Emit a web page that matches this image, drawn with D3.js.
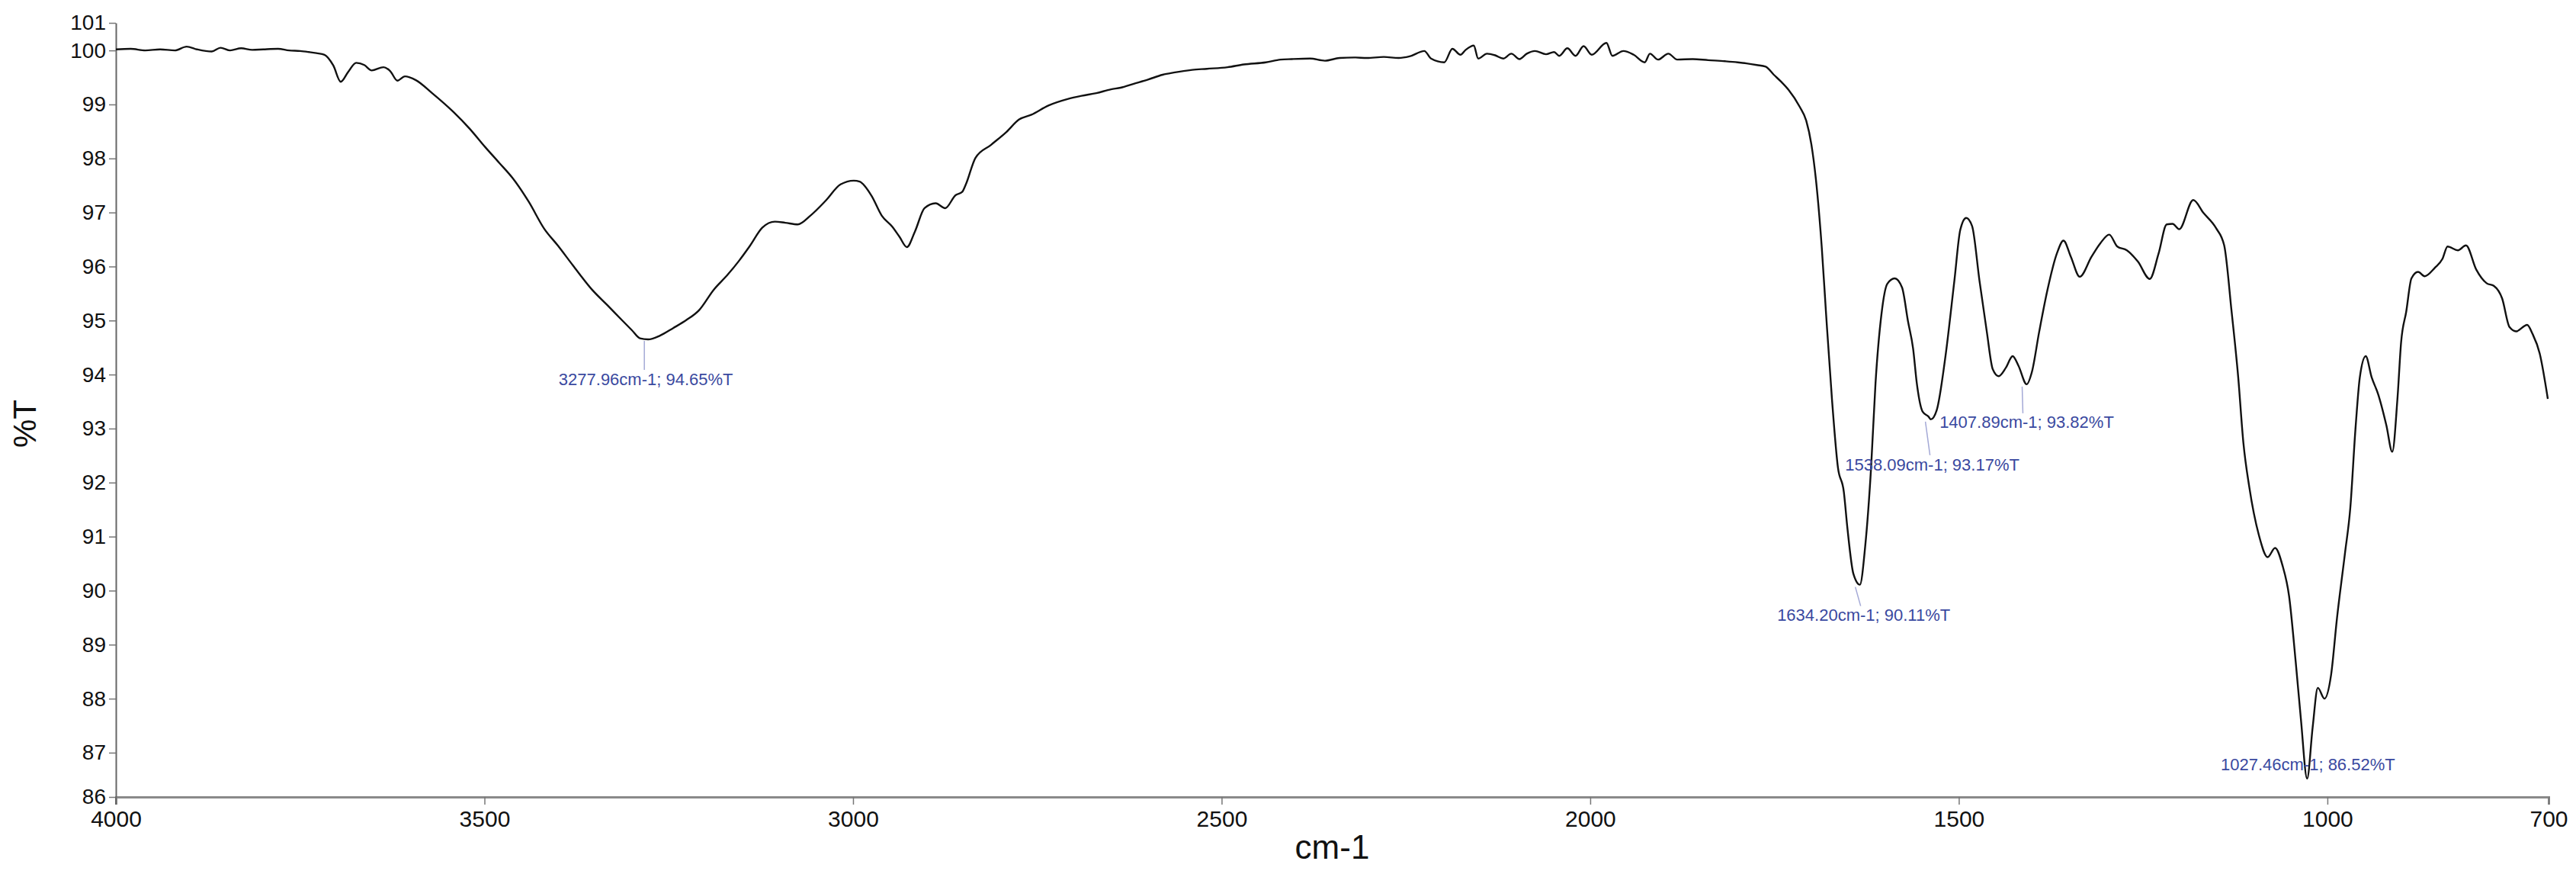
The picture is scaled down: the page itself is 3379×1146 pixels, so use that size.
<!DOCTYPE html>
<html>
<head>
<meta charset="utf-8">
<script src="https://cdn.jsdelivr.net/npm/d3@7/dist/d3.min.js"></script>
<style>
  body { margin: 0; background: #fff; }
  svg { display: block; font-family: "Liberation Sans", Arial, sans-serif; }
</style>
</head>
<body>
<div id="chart"></div>
<script>
// wavenumber (cm-1), high to low
var wn = [4000, 3980, 3960, 3940, 3920, 3904, 3890, 3870, 3858, 3845, 3830, 3815, 3800, 3780, 3765, 3750, 3738, 3728, 3717, 3705,
  3695, 3685, 3674, 3663, 3653, 3637, 3628, 3618, 3608, 3593, 3571, 3542, 3520, 3499, 3480, 3462, 3440, 3419, 3400, 3380,
  3354, 3333, 3313, 3300, 3289, 3278, 3262, 3244, 3226, 3209, 3189, 3170, 3155, 3140, 3123, 3106, 3092, 3075, 3058, 3037,
  3017, 2999, 2991, 2975, 2961, 2947, 2937, 2927, 2916, 2903, 2888, 2875, 2861, 2852, 2847, 2834, 2813, 2792, 2775, 2758,
  2735, 2709, 2690, 2670, 2650, 2637, 2620, 2600, 2580, 2565, 2540, 2520, 2492, 2470, 2440, 2420, 2405, 2380, 2360, 2340,
  2320, 2303, 2280, 2260, 2245, 2225, 2216, 2198, 2187, 2176, 2169, 2158, 2152, 2140, 2129, 2118, 2107, 2096, 2086, 2075,
  2060, 2049, 2042, 2031, 2020, 2009, 1998, 1978, 1970, 1955, 1941, 1926, 1919, 1908, 1894, 1882, 1861, 1840, 1817, 1800,
  1788, 1774, 1762, 1751, 1741, 1731, 1716, 1707, 1700, 1694, 1686, 1680, 1672, 1664, 1656, 1651, 1643, 1634.2, 1627, 1619,
  1613, 1605, 1597, 1587, 1577, 1569, 1562, 1557, 1549, 1541, 1538, 1530, 1518, 1506, 1498, 1490, 1482, 1472, 1462, 1454,
  1446, 1436, 1427, 1419, 1408, 1401, 1391, 1380, 1367, 1358, 1348, 1336, 1320, 1308, 1296, 1285, 1272, 1257, 1241, 1229,
  1218, 1210, 1201, 1182, 1168, 1151, 1140, 1130, 1121, 1114, 1106, 1093, 1081, 1071, 1061, 1052, 1043, 1036, 1027.5, 1020,
  1013, 1004, 995, 987, 976, 969, 962, 956, 948, 940, 931, 920, 912, 905, 900, 893, 886, 877, 868, 854,
  844, 837, 823, 812, 798, 784, 774, 763, 753, 744, 729, 722, 712, 701];

// transmittance (%T) at each wavenumber
var trans = [100.02, 100.03, 100.00, 100.02, 100.00, 100.07, 100.02, 99.98, 100.05, 100.00, 100.04, 100.01, 100.02, 100.03, 100.00, 99.99, 99.97, 99.95, 99.92, 99.72,
  99.42, 99.60, 99.77, 99.73, 99.63, 99.69, 99.62, 99.44, 99.52, 99.45, 99.21, 98.86, 98.55, 98.21, 97.92, 97.64, 97.20, 96.70, 96.38, 96.02,
  95.57, 95.28, 95.00, 94.82, 94.67, 94.65, 94.72, 94.86, 95.01, 95.19, 95.57, 95.85, 96.10, 96.38, 96.72, 96.83, 96.81, 96.78, 96.94, 97.22,
  97.52, 97.59, 97.57, 97.31, 96.94, 96.74, 96.55, 96.36, 96.65, 97.08, 97.17, 97.08, 97.32, 97.38, 97.52, 98.01, 98.25, 98.49, 98.72, 98.81,
  98.98, 99.10, 99.16, 99.21, 99.28, 99.31, 99.38, 99.46, 99.55, 99.59, 99.64, 99.66, 99.69, 99.74, 99.78, 99.83, 99.84, 99.85, 99.81, 99.86,
  99.87, 99.86, 99.88, 99.86, 99.89, 99.99, 99.85, 99.78, 100.03, 99.92, 100.01, 100.09, 99.85, 99.94, 99.91, 99.85, 99.94, 99.84, 99.94, 99.99,
  99.93, 99.97, 99.90, 100.04, 99.90, 100.08, 99.92, 100.14, 99.90, 99.99, 99.92, 99.78, 99.94, 99.83, 99.94, 99.83, 99.84, 99.82, 99.80, 99.78,
  99.76, 99.73, 99.70, 99.55, 99.42, 99.27, 98.96, 98.70, 98.26, 97.63, 96.37, 95.11, 93.53, 92.28, 91.83, 91.14, 90.31, 90.11, 90.82, 92.28,
  93.84, 95.11, 95.68, 95.78, 95.61, 94.99, 94.48, 93.84, 93.31, 93.22, 93.17, 93.34, 94.35, 95.74, 96.68, 96.90, 96.75, 95.74, 94.79, 94.10,
  93.97, 94.13, 94.34, 94.16, 93.82, 94.04, 94.79, 95.55, 96.24, 96.48, 96.18, 95.81, 96.18, 96.43, 96.59, 96.37, 96.30, 96.09, 95.77, 96.24,
  96.78, 96.79, 96.69, 97.23, 96.99, 96.71, 96.39, 95.17, 93.95, 92.74, 91.92, 91.03, 90.62, 90.79, 90.47, 89.90, 88.68, 87.63, 86.52, 87.47,
  88.20, 88.00, 88.44, 89.49, 90.71, 91.52, 92.98, 93.95, 94.34, 93.95, 93.63, 93.06, 92.57, 93.55, 94.60, 95.17, 95.78, 95.90, 95.82, 95.98,
  96.14, 96.37, 96.30, 96.39, 95.94, 95.69, 95.64, 95.41, 94.88, 94.80, 94.92, 94.76, 94.39, 93.55];

// marked peaks
var peakWn = [3277.96, 1634.20, 1538.09, 1407.89, 1027.46];
var peakT = [94.65, 90.11, 93.17, 93.82, 86.52];

// axis
var xDomain = [4000, 700];
var xTicks = [4000, 3500, 3000, 2500, 2000, 1500, 1000, 700];
var yDomain = [86.18, 100.51];   // the ends get labelled 86 and 101
var yTicks = [86.18, 87, 88, 89, 90, 91, 92, 93, 94, 95, 96, 97, 98, 99, 100, 100.51];

var W = 3379, H = 1146;
var margin = { top: 30, right: 36, bottom: 101, left: 152 },
    width = W - margin.left - margin.right,
    height = H - margin.top - margin.bottom;

var svg = d3.select("#chart").append("svg")
    .attr("width", W)
    .attr("height", H);

var g = svg.append("g")
    .attr("transform", "translate(" + margin.left + "," + margin.top + ")");

var x = d3.scaleLinear().domain(xDomain).range([0, width]);
var y = d3.scaleLinear().domain(yDomain).range([height, 0]);

// x axis
var gx = g.append("g")
    .attr("transform", "translate(0," + height + ")")
    .call(d3.axisBottom(x).tickValues(xTicks).tickSize(10).tickPadding(8).tickFormat(d3.format("d")));
gx.select(".domain").attr("stroke", "#8a8a8a").attr("stroke-width", 3);
gx.selectAll(".tick line").attr("stroke", "#777").attr("stroke-width", 1.5);
gx.selectAll("text").attr("font-size", "30px").attr("fill", "#111").attr("font-family", "Liberation Sans, Arial, sans-serif");

// y axis
var gy = g.append("g")
    .call(d3.axisLeft(y).tickValues(yTicks).tickSize(9).tickPadding(4).tickSizeOuter(0).tickFormat(d3.format(".0f")));
gy.select(".domain").attr("stroke", "#666").attr("stroke-width", 2);
gy.selectAll(".tick line").attr("stroke", "#777").attr("stroke-width", 1.5);
gy.selectAll("text").attr("font-size", "28px").attr("fill", "#111").attr("font-family", "Liberation Sans, Arial, sans-serif");

// y axis line runs a bit past the x axis
g.append("line")
    .attr("x1", 0).attr("x2", 0)
    .attr("y1", height).attr("y2", height + 10)
    .attr("stroke", "#666").attr("stroke-width", 2);

// axis titles
svg.append("text")
    .attr("transform", "translate(47," + (margin.top + height / 2 + 18) + ") rotate(-90)")
    .attr("text-anchor", "middle")
    .attr("font-size", "42px")
    .attr("fill", "#111")
    .text("%T");

svg.append("text")
    .attr("x", margin.left + width / 2)
    .attr("y", 1126)
    .attr("text-anchor", "middle")
    .attr("font-size", "44px")
    .attr("fill", "#111")
    .text("cm-1");

// spectrum
var pts = wn.map(function (d, i) { return [d, trans[i]]; });
var line = d3.line()
    .x(function (d) { return x(d[0]); })
    .y(function (d) { return y(d[1]); })
    .curve(d3.curveMonotoneX);

g.append("path")
    .datum(pts)
    .attr("fill", "none")
    .attr("stroke", "#111")
    .attr("stroke-width", 2.4)
    .attr("stroke-linejoin", "round")
    .attr("d", line);

// peak labels: leader start/end offsets and text offset from the peak point
var lab = [
  { l: [-5, 2, -5, 40], t: [-3, 60] },
  { l: [-6, 3, 1, 28], t: [5, 47] },
  { l: [-7, 3, -1, 47], t: [2, 67] },
  { l: [-6, 3, -5, 38], t: [0, 57] },
  { l: null, t: [1, -11] }
];
var labelColor = "#3a49a0";

for (var i = 0; i < peakWn.length; i++) {
  var px = x(peakWn[i]), py = y(peakT[i]);
  var o = lab[i];
  if (o.l) {
    g.append("line")
      .attr("x1", px + o.l[0]).attr("y1", py + o.l[1])
      .attr("x2", px + o.l[2]).attr("y2", py + o.l[3])
      .attr("stroke", "#a4a9d6")
      .attr("stroke-width", 1.5);
  }
  g.append("text")
    .attr("x", px + o.t[0])
    .attr("y", py + o.t[1])
    .attr("text-anchor", "middle")
    .attr("font-size", "22px")
    .attr("fill", labelColor)
    .text(peakWn[i].toFixed(2) + "cm-1; " + peakT[i].toFixed(2) + "%T");
}
</script>
</body>
</html>
